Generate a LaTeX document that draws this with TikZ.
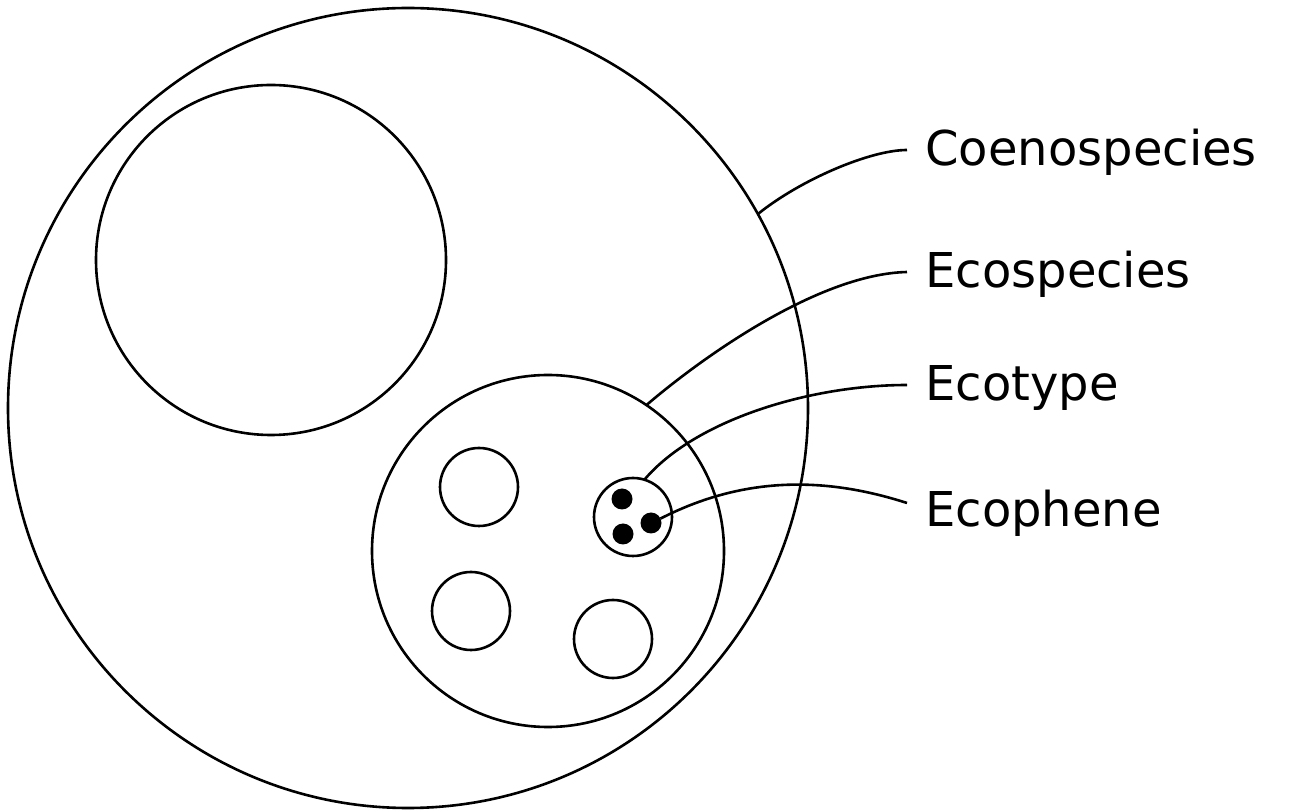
\documentclass[tikz,border=0pt]{standalone}
\usepackage{fontspec}
\newfontfamily\tagfont{DejaVu Sans}
\begin{document}
\begin{tikzpicture}[
    x=0.5pt, y=-0.5pt,
    ring/.style={circle, draw=black, line width=1.3pt, inner sep=0pt, outer sep=0pt},
    blob/.style={circle, fill=black, inner sep=0pt, outer sep=0pt, minimum size=10.5pt},
    leader/.style={line width=1.3pt},
    tag/.style={anchor=west, inner xsep=9pt, inner ysep=0pt, text height=16pt, text depth=0pt, font=\tagfont\fontsize{24pt}{28pt}\selectfont}
]
\useasboundingbox (0,0) rectangle (1292,812);

% Circles
\node[ring, minimum size=400pt] (coeno) at (408, 408) {};
\node[ring, minimum size=175pt] (other) at (271, 260) {};
\node[ring, minimum size=176pt] (ecosp) at (548, 551) {};
\node[ring, minimum size=39pt] (sub1) at (479, 487) {};
\node[ring, minimum size=39pt] (sub2) at (471, 611) {};
\node[ring, minimum size=39pt] (sub3) at (613, 639) {};
\node[ring, minimum size=39pt] (ecot) at (633, 517) {};

% Ecophenes
\node[blob] (dotA) at (622, 499) {};
\node[blob] (dotB) at (623, 534) {};
\node[blob] (dotC) at (651, 523) {};

% Labels
\node[tag] (tCoeno) at (907, 150) {Coenospecies};
\node[tag] (tEcosp) at (907, 272) {Ecospecies};
\node[tag] (tEcot) at (907, 385) {Ecotype};
\node[tag] (tPhene) at (907, 511) {Ecophene};

% Leaders
\draw[leader] (coeno.29) .. controls (800, 180) and (870, 150) .. (tCoeno.west);
\draw[leader] (ecosp.56) .. controls (705, 355) and (820, 274) .. (tEcosp.west);
\draw[leader] (ecot.73) .. controls (695, 420) and (810, 385) .. (tEcot.west);
\draw[leader] (dotC.25) .. controls (740, 478) and (820, 475) .. ([yshift=4pt]tPhene.west);

\end{tikzpicture}
\end{document}
